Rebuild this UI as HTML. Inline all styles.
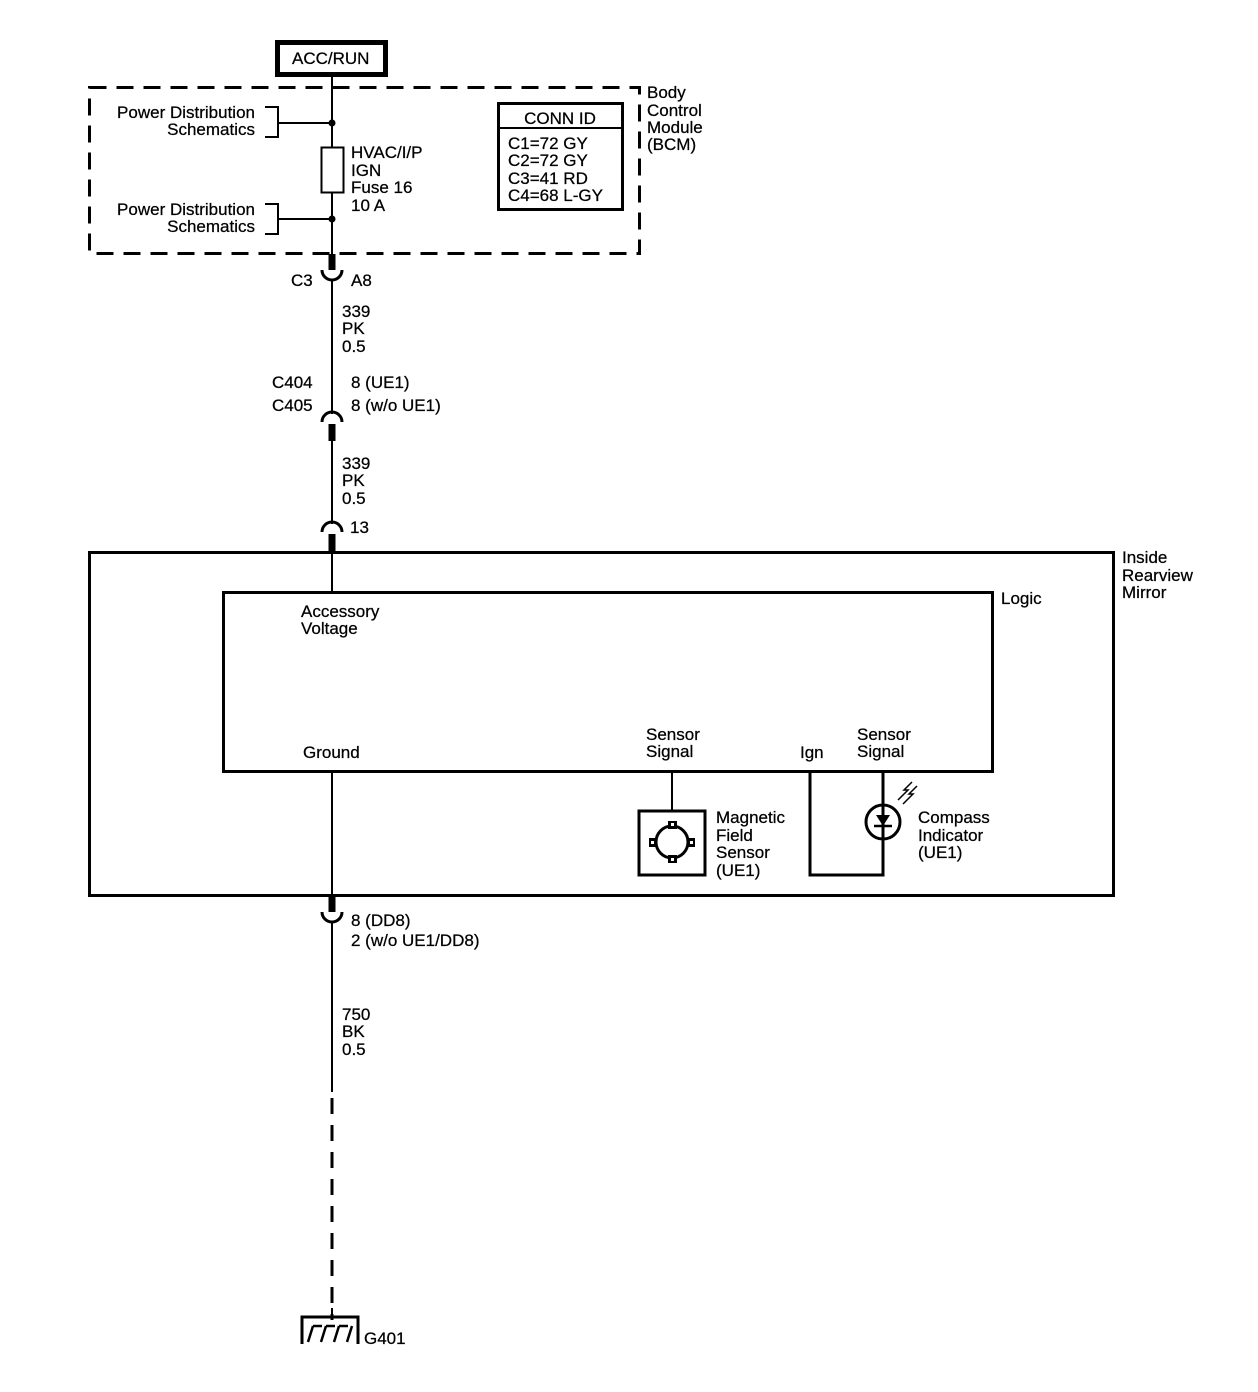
<!DOCTYPE html>
<html><head><meta charset="utf-8"><style>
html,body{margin:0;padding:0;background:#fff;}
svg{display:block;}
text{font-family:"Liberation Sans",Arial,sans-serif;font-size:17px;fill:#000;stroke:#000;stroke-width:0.25px;}
</style></head><body>
<svg width="1258" height="1392" viewBox="0 0 1258 1392" xmlns="http://www.w3.org/2000/svg">
<g fill="none" stroke="#000">
<rect x="277.5" y="42.5" width="108" height="32" stroke-width="5"/>
<rect x="89.5" y="87.5" width="550" height="166" stroke-width="3" stroke-dasharray="17,10"/>
<line x1="332" y1="76" x2="332" y2="254" stroke-width="2"/>
<rect x="321.5" y="147.5" width="22" height="45" stroke-width="2" fill="#fff"/>
<polyline points="265,107 278,107 278,137 265,137" stroke-width="2"/>
<line x1="278" y1="123" x2="332" y2="123" stroke-width="2"/>
<polyline points="265,204 278,204 278,234 265,234" stroke-width="2"/>
<line x1="278" y1="219" x2="332" y2="219" stroke-width="2"/>
<rect x="498.5" y="103.5" width="124" height="106" stroke-width="3"/>
<line x1="498" y1="128" x2="623" y2="128" stroke-width="2"/>
<line x1="332" y1="254" x2="332" y2="270" stroke-width="7"/>
<path d="M322,270 A10,10 0 0 0 342,270" stroke-width="3"/>
<line x1="332" y1="280" x2="332" y2="414" stroke-width="2"/>
<path d="M322,422 A10,10 0 0 1 342,422" stroke-width="3"/>
<line x1="332" y1="424" x2="332" y2="441" stroke-width="7"/>
<line x1="332" y1="441" x2="332" y2="524" stroke-width="2"/>
<path d="M322,532 A10,10 0 0 1 342,532" stroke-width="3"/>
<line x1="332" y1="534" x2="332" y2="553" stroke-width="7"/>
<line x1="332" y1="553" x2="332" y2="592" stroke-width="2"/>
<rect x="89.5" y="552.5" width="1024" height="343" stroke-width="3"/>
<rect x="223.5" y="592.5" width="769" height="179" stroke-width="3"/>
<line x1="332" y1="772" x2="332" y2="897" stroke-width="2"/>
<line x1="332" y1="897" x2="332" y2="912" stroke-width="7"/>
<path d="M322,912 A10,10 0 0 0 342,912" stroke-width="3"/>
<line x1="332" y1="922" x2="332" y2="1092" stroke-width="2"/>
<line x1="332" y1="1098" x2="332" y2="1320" stroke-width="3" stroke-dasharray="16,11"/>
<polyline points="302,1344 302,1317 358,1317 358,1344" stroke-width="3"/>
<line x1="332" y1="1308" x2="332" y2="1317" stroke-width="2"/>
<path d="M313,1326 L308,1342 M313,1326 L322,1326 M326,1326 L321,1342 M326,1326 L335,1326 M339,1326 L334,1342 M339,1326 L348,1326 M352,1326 L347,1342" stroke-width="2.5"/>
<line x1="672" y1="772" x2="672" y2="811" stroke-width="2"/>
<rect x="639" y="811" width="66" height="64" stroke-width="3"/>
<circle cx="672" cy="842" r="16" stroke-width="3"/>
<polyline points="810,772 810,875 883,875 883,772" stroke-width="3"/>
<circle cx="883" cy="822" r="17" stroke-width="3" fill="#fff"/>
<line x1="883" y1="805" x2="883" y2="839" stroke-width="3"/>
<line x1="874" y1="826" x2="892" y2="826" stroke-width="2.5"/>
<path d="M898,800 L908,790 L904,790 L912,782 M903,804 L913,794 L909,794 L917,786" stroke-width="1.5"/>
</g>
<g fill="#000">
<rect x="668" y="821" width="9" height="8"/><rect x="668" y="855" width="9" height="8"/>
<rect x="649" y="838" width="8" height="9"/><rect x="687" y="838" width="8" height="9"/>
<rect x="671" y="823" width="3" height="3" fill="#fff"/><rect x="671" y="858" width="3" height="3" fill="#fff"/>
<rect x="651" y="841" width="3" height="3" fill="#fff"/><rect x="690" y="841" width="3" height="3" fill="#fff"/>
<polygon points="876,815 890,815 883,826"/>
<circle cx="332" cy="123" r="3.5"/><circle cx="332" cy="219" r="3.5"/>
</g>
<text x="292" y="64">ACC/RUN</text>
<text x="255" y="118" text-anchor="end">Power Distribution</text>
<text x="255" y="135" text-anchor="end">Schematics</text>
<text x="255" y="215" text-anchor="end">Power Distribution</text>
<text x="255" y="232" text-anchor="end">Schematics</text>
<text x="351" y="158">HVAC/I/P</text>
<text x="351" y="176">IGN</text>
<text x="351" y="193">Fuse 16</text>
<text x="351" y="211">10 A</text>
<text x="560" y="124" text-anchor="middle">CONN ID</text>
<text x="508" y="149">C1=72 GY</text>
<text x="508" y="166">C2=72 GY</text>
<text x="508" y="184">C3=41 RD</text>
<text x="508" y="201">C4=68 L-GY</text>
<text x="647" y="98">Body</text>
<text x="647" y="116">Control</text>
<text x="647" y="133">Module</text>
<text x="647" y="150">(BCM)</text>
<text x="291" y="286">C3</text>
<text x="351" y="286">A8</text>
<text x="342" y="317">339</text>
<text x="342" y="334">PK</text>
<text x="342" y="352">0.5</text>
<text x="272" y="388">C404</text>
<text x="272" y="411">C405</text>
<text x="351" y="388">8 (UE1)</text>
<text x="351" y="411">8 (w/o UE1)</text>
<text x="342" y="469">339</text>
<text x="342" y="486">PK</text>
<text x="342" y="504">0.5</text>
<text x="350" y="533">13</text>
<text x="1122" y="563">Inside</text>
<text x="1122" y="581">Rearview</text>
<text x="1122" y="598">Mirror</text>
<text x="1001" y="604">Logic</text>
<text x="301" y="617">Accessory</text>
<text x="301" y="634">Voltage</text>
<text x="303" y="758">Ground</text>
<text x="646" y="740">Sensor</text>
<text x="646" y="757">Signal</text>
<text x="800" y="758">Ign</text>
<text x="857" y="740">Sensor</text>
<text x="857" y="757">Signal</text>
<text x="716" y="823">Magnetic</text>
<text x="716" y="841">Field</text>
<text x="716" y="858">Sensor</text>
<text x="716" y="876">(UE1)</text>
<text x="918" y="823">Compass</text>
<text x="918" y="841">Indicator</text>
<text x="918" y="858">(UE1)</text>
<text x="351" y="926">8 (DD8)</text>
<text x="351" y="946">2 (w/o UE1/DD8)</text>
<text x="342" y="1020">750</text>
<text x="342" y="1037">BK</text>
<text x="342" y="1055">0.5</text>
<text x="364" y="1344">G401</text>
</svg>
</body></html>
